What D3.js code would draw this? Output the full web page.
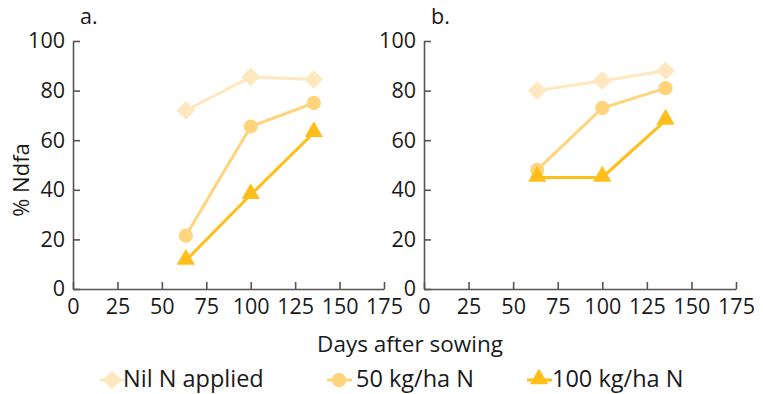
<!DOCTYPE html>
<html><head><meta charset="utf-8">
<script src="https://cdn.jsdelivr.net/npm/d3@7"></script>
<style>body{margin:0;background:#fff}svg{display:block}text{font-family:"Open Sans",Lato,sans-serif;fill:#1a1a1a}</style>
</head><body><svg id="c" width="763" height="394"></svg>
<script>
const days = [63.5, 100, 135.5];
const seriesNames = ["Nil N applied", "50 kg/ha N", "100 kg/ha N"];
const panelA_nil = [72, 85.5, 84.5];
const panelA_50 = [21.5, 65.5, 75];
const panelA_100 = [11.5, 38, 63];
const panelB_nil = [80, 84, 88];
const panelB_50 = [48, 73, 81];
const panelB_100 = [45, 45, 68];
const xTicks = [0, 25, 50, 75, 100, 125, 150, 175];
const yTicks = [0, 20, 40, 60, 80, 100];
const panelLabels = ["a.", "b."];
const colors = ["#FFE8BF", "#FFD47A", "#FFBE1A"];
const diamond = {draw(ctx, size) { const r = Math.sqrt(size / 2); ctx.moveTo(0, -r); ctx.lineTo(r, 0); ctx.lineTo(0, r); ctx.lineTo(-r, 0); ctx.closePath(); }};
const shapes = [diamond, d3.symbolCircle, d3.symbolTriangle];
const symSize = [175, 160, 145];

const svg = d3.select("#c");
const panels = [
  {x0: 73, x1: 384, data: [panelA_nil, panelA_50, panelA_100], label: panelLabels[0]},
  {x0: 424, x1: 736, data: [panelB_nil, panelB_50, panelB_100], label: panelLabels[1]}
];
const y = d3.scaleLinear().domain([0, 100]).range([289, 41]);

panels.forEach(p => {
  const x = d3.scaleLinear().domain([0, 175]).range([p.x0, p.x1]);
  const g = svg.append("g");
  const xa = g.append("g").attr("transform", "translate(0,289)")
    .call(d3.axisBottom(x).tickValues(xTicks).tickSize(-7).tickPadding(10).tickSizeOuter(0));
  const ya = g.append("g").attr("transform", `translate(${p.x0},0)`)
    .call(d3.axisLeft(y).tickValues(yTicks).tickSize(-7).tickPadding(8).tickSizeOuter(0));
  [xa, ya].forEach(a => {
    a.select(".domain").attr("stroke", "#555").attr("stroke-width", 1.6);
    a.selectAll(".tick line").attr("stroke", "#555").attr("stroke-width", 1.6);
    a.selectAll(".tick text").style("font-size", "21.5px").style("font-family", "'Open Sans',sans-serif").attr("fill", "#1a1a1a");
  });
  xa.selectAll(".tick text").attr("dy", "0.71em");
  g.append("text").attr("x", p.x0 + 7).attr("y", 24).style("font-size", "21.5px").text(p.label);
  p.data.forEach((vals, i) => {
    const line = d3.line().x((d, j) => x(days[j])).y(d => y(d));
    g.append("path").datum(vals).attr("d", line).attr("fill", "none")
      .attr("stroke", colors[i]).attr("stroke-width", 3);
    g.selectAll(null).data(vals).enter().append("path")
      .attr("transform", (d, j) => `translate(${x(days[j])},${y(d) + (i === 2 ? -1 : 0)})`)
      .attr("d", d3.symbol().type(shapes[i]).size(symSize[i])).attr("fill", colors[i]);
  });
});

svg.append("text").attr("transform", "translate(29,180) rotate(-90)").attr("text-anchor", "middle")
  .style("font-size", "22px").text("% Ndfa");
svg.append("text").attr("x", 410).attr("y", 352).attr("text-anchor", "middle")
  .style("font-size", "22.5px").text("Days after sowing");

const leg = [{cx: 112, tx: 123}, {cx: 339, tx: 356}, {cx: 539, tx: 552}];
leg.forEach((l, i) => {
  const g = svg.append("g");
  g.append("line").attr("x1", l.cx - 12).attr("x2", l.cx + 13).attr("y1", 380).attr("y2", 380)
    .attr("stroke", colors[i]).attr("stroke-width", 3);
  g.append("path").attr("transform", `translate(${l.cx},${380 + (i===2?-1:0)})`)
    .attr("d", d3.symbol().type(shapes[i]).size(symSize[i])).attr("fill", colors[i]);
  g.append("text").attr("x", l.tx).attr("y", 387).style("font-size", "23.5px").text(seriesNames[i]);
});
</script></body></html>
